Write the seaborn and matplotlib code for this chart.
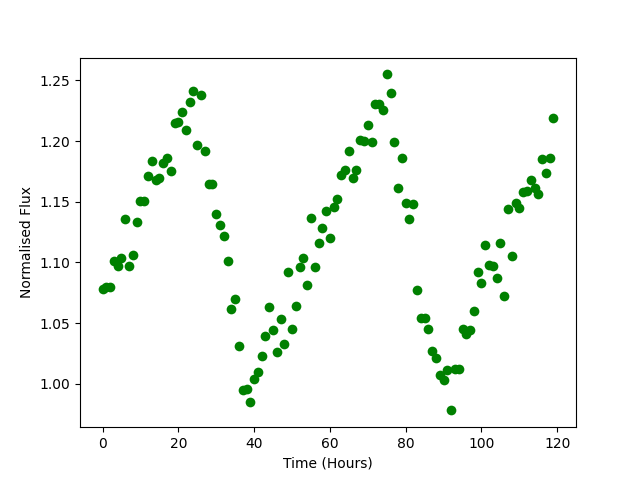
import matplotlib
matplotlib.use('Agg')
import matplotlib.pyplot as plt
import seaborn as sns
import pandas as pd

# Flux readings, one per hour
hours = list(range(120))
flux = [
    1.078, 1.080, 1.080, 1.101, 1.097, 1.104, 1.136, 1.097, 1.106, 1.133,
    1.151, 1.151, 1.171, 1.184, 1.168, 1.170, 1.182, 1.186, 1.175, 1.215,
    1.216, 1.224, 1.209, 1.232, 1.241, 1.197, 1.238, 1.192, 1.165, 1.165,
    1.140, 1.131, 1.122, 1.101, 1.062, 1.070, 1.031, 0.995, 0.996, 0.985,
    1.004, 1.010, 1.023, 1.039, 1.063, 1.044, 1.026, 1.053, 1.033, 1.092,
    1.045, 1.064, 1.096, 1.104, 1.081, 1.137, 1.096, 1.116, 1.128, 1.142,
    1.120, 1.146, 1.152, 1.172, 1.176, 1.192, 1.170, 1.176, 1.201, 1.200,
    1.213, 1.199, 1.231, 1.231, 1.226, 1.255, 1.240, 1.199, 1.161, 1.186,
    1.149, 1.136, 1.148, 1.077, 1.054, 1.054, 1.045, 1.027, 1.021, 1.007,
    1.003, 1.011, 0.978, 1.012, 1.012, 1.045, 1.041, 1.044, 1.060, 1.092,
    1.083, 1.114, 1.098, 1.097, 1.087, 1.116, 1.072, 1.144, 1.105, 1.149,
    1.145, 1.158, 1.159, 1.168, 1.161, 1.156, 1.185, 1.174, 1.186, 1.219,
]

df = pd.DataFrame({'hours': hours, 'flux': flux})

fig, ax = plt.subplots(figsize=(6.4, 4.8), dpi=100)
sns.scatterplot(x='hours', y='flux', data=df, color='green', s=49, linewidth=0, ax=ax)
ax.set_xlabel('Time (Hours)')
ax.set_ylabel('Normalised Flux')
fig.savefig('out.png')
